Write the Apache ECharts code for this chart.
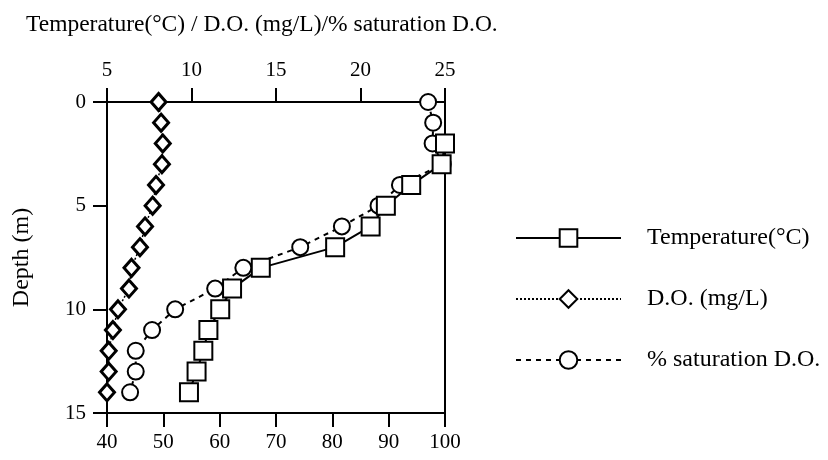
<!DOCTYPE html>
<html style="height: 100%">
<head>
<meta charset="utf-8">
<script src="https://cdn.jsdelivr.net/npm/echarts@6/dist/echarts.min.js"></script>
</head>
<body style="height: 100%; margin: 0; background: #fff">
<div id="container" style="width: 828px; height: 460px"></div>
<script>
// depth profile readings
var depths = [0, 1, 2, 3, 4, 5, 6, 7, 8, 9, 10, 11, 12, 13, 14];
var tempDepths = [2, 3, 4, 5, 6, 7, 8, 9, 10, 11, 12, 13, 14];
var temperature = [25.0, 24.8, 23.0, 21.5, 20.6, 18.5, 14.1, 12.4, 11.7, 11.0, 10.7, 10.3, 9.85];
var dissolvedO2 = [8.05, 8.2, 8.3, 8.25, 7.9, 7.7, 7.25, 6.95, 6.45, 6.3, 5.65, 5.35, 5.1, 5.1, 5.0];
var saturation = [97.0, 97.9, 97.8, 99.6, 92.0, 88.2, 81.7, 74.3, 64.2, 59.2, 52.1, 48.0, 45.1, 45.1, 44.1];
var topTicks = [5, 25, 5];      // min, max, interval
var bottomTicks = [40, 100, 10];

function pairs(xs, ys) {
    return xs.map(function (v, i) { return [v, ys[i]]; });
}

var font = 'Liberation Serif';
var dom = document.getElementById('container');
var myChart = echarts.init(dom);

var axisLine = { lineStyle: { color: '#000', width: 2 } };
var axisTick = { length: 14, lineStyle: { color: '#000', width: 2 } };

function tickLabel(margin) {
    return { color: '#000', fontFamily: font, fontSize: 21, margin: margin };
}

var option = {
    backgroundColor: '#fff',
    animation: false,
    textStyle: { fontFamily: font },
    title: {
        text: 'Temperature(°C) / D.O. (mg/L)/% saturation D.O.',
        left: 21,
        top: 8,
        textStyle: { color: '#000', fontFamily: font, fontSize: 23.5, fontWeight: 'normal' }
    },
    grid: {
        left: 107, right: 383, top: 102, bottom: 47,
        show: true, borderColor: '#000', borderWidth: 2
    },
    legend: {
        orient: 'vertical',
        left: 510,
        top: 221,
        itemWidth: 105,
        itemHeight: 22,
        itemGap: 37,
        textStyle: { color: '#000', fontFamily: font, fontSize: 24, padding: [0, 0, 0, 21] },
        data: ['Temperature(°C)', 'D.O. (mg/L)', '% saturation D.O.']
    },
    xAxis: [
        {
            type: 'value', position: 'top',
            min: topTicks[0], max: topTicks[1], interval: topTicks[2],
            axisLine: axisLine, axisTick: axisTick,
            axisLabel: tickLabel(21),
            splitLine: { show: false }
        },
        {
            type: 'value', position: 'bottom',
            min: bottomTicks[0], max: bottomTicks[1], interval: bottomTicks[2],
            axisLine: axisLine, axisTick: axisTick,
            axisLabel: tickLabel(19),
            splitLine: { show: false }
        }
    ],
    yAxis: {
        type: 'value', inverse: true,
        min: 0, max: 15, interval: 5,
        name: 'Depth (m)', nameLocation: 'middle', nameGap: 73, nameRotate: 90,
        nameTextStyle: { color: '#000', fontFamily: font, fontSize: 24 },
        axisLine: axisLine, axisTick: axisTick,
        axisLabel: tickLabel(21),
        splitLine: { show: false }
    },
    series: [
        {
            name: '% saturation D.O.',
            type: 'line', xAxisIndex: 1,
            data: pairs(saturation, depths),
            symbol: 'circle', symbolSize: 16,
            lineStyle: { color: '#000', width: 2, type: [5, 5] },
            itemStyle: { color: '#fff', borderColor: '#000', borderWidth: 2 },
            z: 2
        },
        {
            name: 'D.O. (mg/L)',
            type: 'line', xAxisIndex: 0,
            data: pairs(dissolvedO2, depths),
            symbol: 'diamond', symbolSize: [15, 17],
            lineStyle: { color: '#000', width: 1.5, type: [2, 2] },
            itemStyle: { color: '#fff', borderColor: '#000', borderWidth: 3 },
            z: 3
        },
        {
            name: 'Temperature(°C)',
            type: 'line', xAxisIndex: 0,
            data: pairs(temperature, tempDepths),
            symbol: 'rect', symbolSize: 18,
            lineStyle: { color: '#000', width: 2 },
            itemStyle: { color: '#fff', borderColor: '#000', borderWidth: 2 },
            z: 4
        }
    ]
};

myChart.setOption(option);
</script>
</body>
</html>
